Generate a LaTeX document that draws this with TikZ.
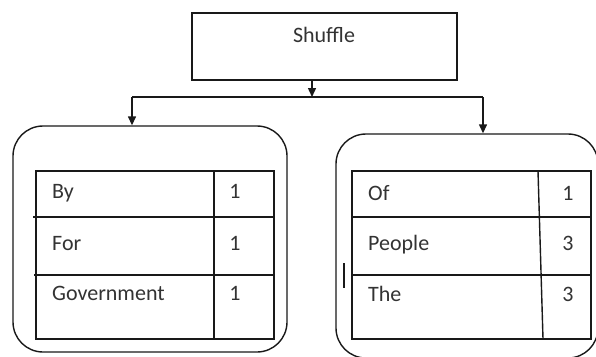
\documentclass[tikz,border=0pt]{standalone}
\usepackage{fontspec}
\setmainfont{Carlito}
\usetikzlibrary{arrows.meta}
\begin{document}
\begin{tikzpicture}[x=1pt,y=-1pt,
  ln/.style={line width=1.4pt,draw=black!90},
  arr/.style={ln,-{Triangle[length=9pt,width=8pt]}},
  txt/.style={font=\fontsize{22}{26}\selectfont,text=black!80,inner sep=0pt},
  wordlbl/.style={txt,anchor=base west},
  numlbl/.style={txt,anchor=base},
  groupbox/.style={ln,rounded corners=30pt,inner sep=0pt}]
\clip (0,0) rectangle (596,356);
\fill[white] (0,0) rectangle (596,356);
% Shuffle box
\node[ln,rectangle,minimum width=265pt,minimum height=67pt,inner sep=0pt] (shuffle) at (324.5,46.5) {};
\node[txt] (shuffletxt) at (324,35) {Shuffle};
% group boxes
\node[groupbox,minimum width=274pt,minimum height=226pt] (lbox) at (150,239) {};
\node[groupbox,minimum width=262pt,minimum height=224pt] (rbox) at (467,246) {};
% connectors
\coordinate (j) at (312,97);
\coordinate (jl) at (132,97);
\coordinate (jr) at (483,97);
\draw[arr] (j |- shuffle.south) -- (j);
\draw[ln] (jl) -- (jr);
\draw[arr] (jl) -- (jl |- lbox.north);
\draw[arr] (jr) -- (jr |- rbox.north);
% left table
\draw[ln] (36,171) rectangle (274,339);
\draw[ln] (33,217) -- (274,217);
\draw[ln] (34,275) -- (274,275);
\draw[ln] (214,171) -- (214,339);
\node[wordlbl] (l1) at (52,198) {By};
\node[wordlbl] (l2) at (52,250) {For};
\node[wordlbl] (l3) at (52,300) {Government};
\node[numlbl] (n1) at (235,198) {1};
\node[numlbl] (n2) at (235,250) {1};
\node[numlbl] (n3) at (235,300) {1};
% right table
\draw[ln] (352,171) rectangle (591,339);
\draw[ln] (352,217) -- (591,217);
\draw[ln] (352,275) -- (591,275);
\draw[ln] (538,171) -- (543,339);
\node[wordlbl] (r1) at (368,200) {Of};
\node[wordlbl] (r2) at (368,250) {People};
\node[wordlbl] (r3) at (368,301) {The};
\node[numlbl] (m1) at (568,200) {1};
\node[numlbl] (m2) at (568,250) {3};
\node[numlbl] (m3) at (568,301) {3};
% stray mark
\draw[ln] (344,263) -- (344,288);
\end{tikzpicture}
\end{document}
